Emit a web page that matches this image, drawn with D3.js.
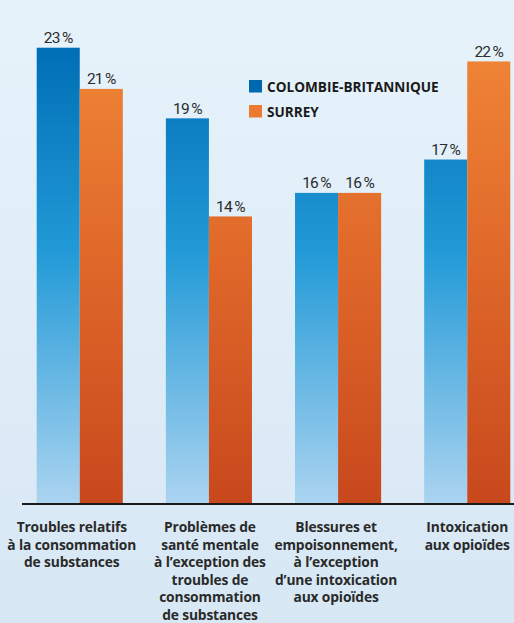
<!DOCTYPE html>
<html>
<head>
<meta charset="utf-8">
<script src="https://cdn.jsdelivr.net/npm/d3@7"></script>
<style>
  html, body { margin: 0; padding: 0; }
  body { width: 514px; height: 623px; overflow: hidden; }
</style>
</head>
<body>
<div id="graph"></div>
<script>
// categories (one label line per array entry)
var categories = [
  ["Troubles relatifs", "à la consommation", "de substances"],
  ["Problèmes de", "santé mentale", "à l’exception des", "troubles de", "consommation", "de substances"],
  ["Blessures et", "empoisonnement,", "à l’exception", "d’une intoxication", "aux opioïdes"],
  ["Intoxication", "aux opioïdes"]
];
var seriesNames = ["COLOMBIE-BRITANNIQUE", "SURREY"];
// values in % (labels show them rounded)
var bcValues = [22.9, 19.3, 15.5, 17.2];
var surreyValues = [20.8, 14.3, 15.5, 22.2];

var width = 514, height = 623;
var baseline = 504;

var svg = d3.select("#graph")
  .append("svg")
    .attr("width", width)
    .attr("height", height);

var defs = svg.append("defs");

// page background
var bg = defs.append("linearGradient")
    .attr("id", "bg")
    .attr("x1", 0).attr("y1", 0).attr("x2", 0).attr("y2", 1);
bg.append("stop").attr("offset", "0%").attr("stop-color", "#e7f3fb");
bg.append("stop").attr("offset", "100%").attr("stop-color", "#d7e7f4");
svg.append("rect")
    .attr("width", width).attr("height", height)
    .attr("fill", "url(#bg)");

// bar gradients, fixed in page space so shorter bars start lighter
function barGradient(id, stops) {
  var g = defs.append("linearGradient")
      .attr("id", id)
      .attr("gradientUnits", "userSpaceOnUse")
      .attr("x1", 0).attr("y1", 46).attr("x2", 0).attr("y2", baseline);
  stops.forEach(function(s) {
    g.append("stop").attr("offset", s[0]).attr("stop-color", s[1]);
  });
}
barGradient("blueGrad", [["0%", "#006eb6"], ["45%", "#229ad7"], ["100%", "#abd4f0"]]);
barGradient("orangeGrad", [["0%", "#f08536"], ["45%", "#e0692a"], ["100%", "#c8481d"]]);

var data = categories.map(function(c, i) {
  return {label: c, values: [bcValues[i], surreyValues[i]]};
});

var x0 = d3.scaleBand()
  .domain(d3.range(categories.length))
  .range([36.7, 510.3])
  .paddingInner(1 / 3)
  .paddingOuter(0);

var x1 = d3.scaleBand()
  .domain([0, 1])
  .range([0, x0.bandwidth()]);

// zero sits a little above the drawn axis line, bars run down to the axis
var y = d3.scaleLinear()
  .domain([0, 25])
  .range([497, 497 - 25 * 19.62]);

var fills = ["url(#blueGrad)", "url(#orangeGrad)"];

var groups = svg.selectAll("g.group")
  .data(data)
  .enter()
  .append("g")
    .attr("class", "group")
    .attr("transform", function(d, i) { return "translate(" + x0(i) + ",0)"; });

groups.selectAll("rect")
  .data(function(d) { return d.values; })
  .enter()
  .append("rect")
    .attr("x", function(d, j) { return x1(j); })
    .attr("y", function(d) { return y(d); })
    .attr("width", x1.bandwidth())
    .attr("height", function(d) { return baseline - y(d); })
    .attr("fill", function(d, j) { return fills[j]; });

groups.selectAll("text.value")
  .data(function(d) { return d.values; })
  .enter()
  .append("text")
    .attr("class", "value")
    .attr("x", function(d, j) { return x1(j) + x1.bandwidth() / 2; })
    .attr("y", function(d) { return y(d) - 4.5; })
    .attr("text-anchor", "middle")
    .style("font-family", "Roboto, sans-serif")
    .style("font-weight", 400)
    .style("font-size", "15.5px")
    .style("letter-spacing", "-0.8px")
    .style("fill", "#2b2b2b")
    .text(function(d) { return Math.round(d) + "\u2009%"; });

// axis line
svg.append("line")
    .attr("x1", 22).attr("x2", width)
    .attr("y1", baseline).attr("y2", baseline)
    .attr("stroke", "#1a1a1a")
    .attr("stroke-width", 2);

// category labels
var labelShift = [-8, 1, -2, 0];
groups.append("text")
    .attr("x", function(d, i) { return x0.bandwidth() / 2 + labelShift[i]; })
    .attr("y", 532)
    .attr("text-anchor", "middle")
    .style("font-family", "'Open Sans', sans-serif")
    .style("font-weight", "bold")
    .style("font-size", "13.8px")
    .style("letter-spacing", "-0.15px")
    .style("fill", "#2a2a2a")
  .selectAll("tspan")
    .data(function(d) { return d.label; })
    .enter()
    .append("tspan")
      .attr("x", function() { return this.parentNode.getAttribute("x"); })
      .attr("dy", function(d, k) { return k === 0 ? 0 : 17.6; })
      .text(function(d) { return d; });

// legend
var legend = svg.selectAll("g.legend")
  .data(seriesNames)
  .enter()
  .append("g")
    .attr("class", "legend")
    .attr("transform", function(d, i) { return "translate(249," + (80 + i * 25) + ")"; });
legend.append("rect")
    .attr("width", 13).attr("height", 12.5)
    .attr("fill", function(d, i) { return i === 0 ? "#0068ae" : "#ec7a30"; });
legend.append("text")
    .attr("x", 18)
    .attr("y", 12)
    .style("font-family", "'Open Sans', sans-serif")
    .style("font-weight", "bold")
    .style("font-size", "13.6px")
    .style("fill", "#1a1a1a")
    .text(function(d) { return d; });
</script>
</body>
</html>
